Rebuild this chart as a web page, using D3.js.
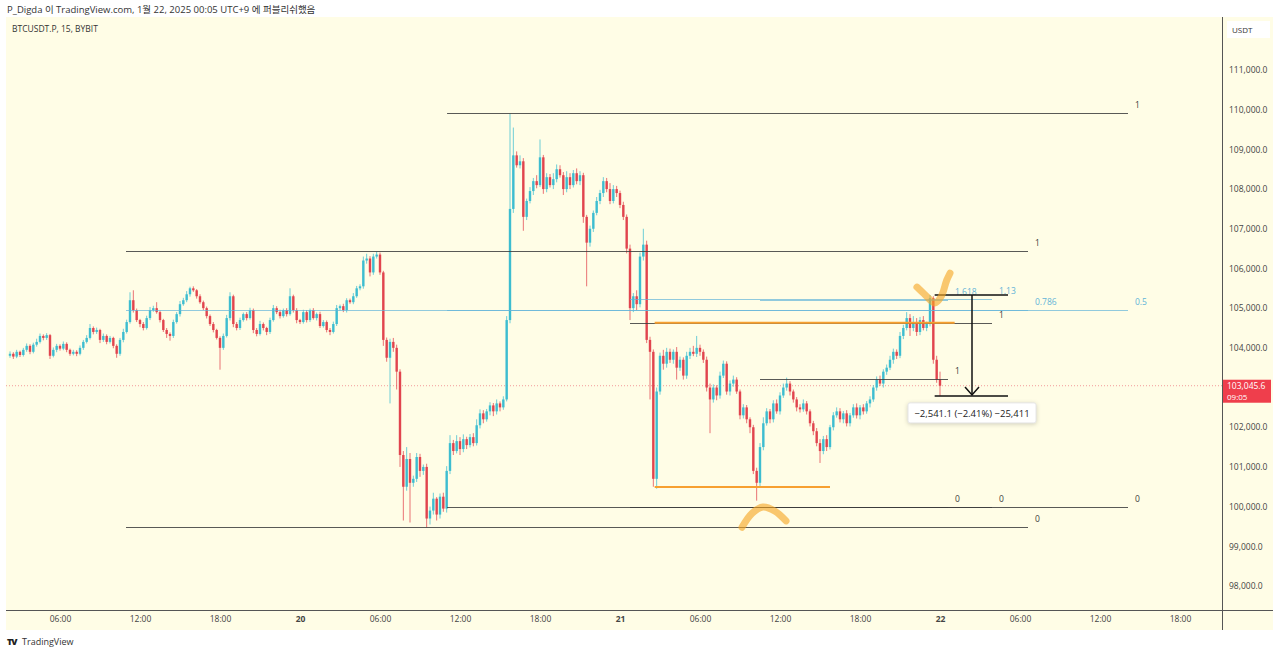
<!DOCTYPE html>
<html>
<head>
<meta charset="utf-8">
<script src="https://cdn.jsdelivr.net/npm/d3@7"></script>
<style>
  html, body { margin: 0; padding: 0; background: #fff; }
  svg { display: block; font-family: "Open Sans", "Noto Sans", "Noto Sans CJK KR", sans-serif; }
</style>
</head>
<body>
<div id="chart"></div>
<script>
// BTCUSDT.P 15m, hours counted from Jan 20 00:00 (UTC+9)
const barStart = -21.75;
const barStep = 0.25;
const firstOpen = 103800;

const closes = [
  103850, 103780, 103900, 103820, 103950, 104050, 103900, 104080,
  104150, 104300, 104250, 104320, 103800, 103950, 104050, 103980,
  104100, 103950, 103850, 103900, 103850, 104000, 104150, 104250,
  104500, 104400, 104450, 104200, 104300, 104150, 104250, 104050,
  103850, 104200, 104400, 104650, 105200, 104950, 104700, 104600,
  104500, 104750, 104950, 105000, 104900, 104700, 104450, 104350,
  104300, 104650, 104850, 105100, 105200, 105350, 105500, 105450,
  105300, 105150, 105000, 104800, 104600, 104450, 104250, 104000,
  104300, 104750, 105300, 104600, 104500, 104700, 104850, 104750,
  104950, 104450, 104350, 104600, 104500, 104400, 104700, 105000,
  104900, 104800, 104950, 104850, 105300, 104950, 104700, 104650,
  104900, 104700, 104950, 104750, 104850, 104550, 104650, 104450,
  104400, 104600, 105000, 105050, 104950, 105200, 105150, 105300,
  105500, 105550, 106200, 106250, 105900, 106300, 106350, 105900,
  104200, 103750, 104150, 104000, 103400, 101300, 100500, 101200,
  100600, 100700, 101250, 100900, 101000, 99700, 99900, 100200,
  99800, 100250, 99950, 100900, 101600, 101400, 101650, 101450,
  101700, 101550, 101750, 101600, 102050, 102350, 102200, 102400,
  102550, 102400, 102600, 102500, 102700, 104700, 107500, 108850,
  108600, 108700, 107300, 107700, 107950, 108200, 108100, 108800,
  108000, 108300, 108100, 108250, 108500, 108350, 108000, 108300,
  108100, 108400, 108200, 108350, 107300, 106650, 107000, 107400,
  107700, 107900, 108200, 108000, 107700, 108000, 107900, 107600,
  107300, 106500, 105000, 105300, 105100, 106300, 106600, 104200,
  103900, 100700, 102900, 103800, 103600, 103900, 103700, 103900,
  103500, 103700, 103300, 103800, 103900, 103850, 104000, 103900,
  103700, 103000, 102700, 103000, 102800, 103300, 103600, 102900,
  103100, 103200, 102900, 102300, 102500, 102200, 102000, 100900,
  100600, 101500, 102100, 102400, 102200, 102600, 102400, 102800,
  103000, 103100, 102900, 102700, 102500, 102450, 102600, 102400,
  102100, 101900, 101600, 101400, 101700, 101500, 102000, 102300,
  102400, 102200, 102350, 102100, 102300, 102500, 102300, 102500,
  102400, 102600, 102700, 103000, 103200, 103100, 103400, 103500,
  103700, 103900, 103800, 104300, 104500, 104750, 104500, 104650,
  104400, 104700, 104500, 104600, 105250, 103700, 103200, 103045.6
];

// wick lengths above / below the body, USDT
const upWick = [
  60, 40, 50, 30, 50, 60, 40, 50, 80, 60, 40, 50, 30, 60, 50, 40,
  60, 40, 30, 50, 40, 60, 50, 70, 100, 40, 60, 30, 60, 40, 50, 30,
  40, 50, 80, 60, 200, 250, 40, 30, 50, 60, 80, 60, 150, 40, 30, 50,
  40, 60, 50, 80, 60, 80, 40, 50, 30, 50, 40, 40, 40, 50, 30, 40,
  60, 80, 100, 40, 50, 60, 40, 50, 60, 40, 50, 80, 40, 30, 60, 80,
  50, 60, 40, 50, 200, 40, 50, 30, 60, 50, 40, 50, 40, 60, 50, 40,
  50, 60, 80, 40, 60, 50, 40, 80, 60, 50, 100, 120, 60, 70, 70, 50,
  40, 60, 80, 100, 80, 60, 100, 300, 150, 80, 100, 80, 60, 80, 100, 150,
  40, 80, 100, 120, 200, 80, 150, 100, 120, 60, 80, 100, 150, 100, 80, 60,
  80, 60, 100, 50, 80, 100, 2400, 700, 100, 150, 80, 60, 100, 80, 150, 450,
  60, 100, 80, 150, 120, 100, 80, 150, 100, 80, 120, 100, 60, 50, 80, 60,
  100, 80, 100, 80, 150, 100, 80, 60, 80, 60, 100, 80, 150, 100, 400, 100,
  80, 60, 100, 80, 150, 100, 80, 60, 120, 80, 60, 100, 100, 150, 300, 80,
  60, 80, 100, 80, 60, 100, 80, 60, 80, 100, 60, 50, 80, 60, 50, 60,
  80, 100, 150, 80, 60, 80, 100, 80, 100, 150, 60, 50, 60, 80, 100, 60,
  50, 60, 80, 100, 80, 100, 60, 80, 100, 80, 60, 80, 60, 80, 100, 60,
  80, 60, 80, 60, 80, 100, 60, 80, 100, 80, 60, 100, 80, 150, 100, 150,
  100, 80, 100, 60, 80, 50, 100, 200
];
const downWick = [
  50, 60, 40, 50, 40, 50, 60, 40, 50, 40, 60, 50, 80, 40, 60, 50,
  40, 60, 50, 40, 60, 40, 50, 40, 40, 60, 50, 80, 50, 60, 40, 60,
  100, 50, 60, 40, 40, 60, 50, 80, 60, 40, 50, 40, 40, 60, 50, 100,
  120, 50, 40, 60, 40, 50, 60, 40, 60, 40, 50, 60, 50, 60, 40, 550,
  50, 40, 60, 80, 60, 50, 40, 60, 40, 80, 60, 40, 60, 80, 50, 40,
  50, 60, 40, 60, 40, 60, 80, 50, 40, 60, 50, 40, 60, 50, 40, 60,
  80, 40, 50, 60, 50, 60, 40, 50, 40, 50, 60, 80, 100, 60, 50, 60,
  150, 100, 1150, 100, 450, 300, 850, 100, 1000, 100, 80, 150, 100, 220, 150, 100,
  150, 100, 80, 100, 80, 100, 60, 150, 80, 100, 60, 80, 60, 80, 100, 60,
  100, 120, 80, 100, 60, 50, 80, 100, 60, 80, 350, 80, 60, 100, 80, 50,
  120, 80, 60, 100, 80, 60, 150, 80, 100, 60, 80, 100, 150, 1100, 100, 80,
  60, 80, 100, 80, 80, 60, 100, 80, 80, 120, 300, 100, 150, 80, 100, 80,
  1200, 200, 250, 80, 150, 100, 80, 100, 300, 80, 100, 80, 80, 60, 80, 100,
  80, 100, 850, 80, 120, 80, 60, 80, 100, 80, 60, 100, 80, 100, 150, 80,
  450, 100, 80, 60, 100, 80, 60, 80, 60, 80, 100, 80, 100, 80, 60, 80,
  80, 100, 80, 300, 80, 100, 60, 80, 60, 80, 100, 80, 80, 60, 80, 100,
  80, 60, 100, 60, 80, 60, 100, 80, 60, 100, 80, 60, 80, 60, 200, 80,
  100, 80, 60, 80, 60, 100, 80, 255
];

const priceTicks = [98000, 99000, 100000, 101000, 102000, 103000, 104000, 105000,
  106000, 107000, 108000, 109000, 110000, 111000];
const timeTickHours = [-18, -12, -6, 0, 6, 12, 18, 24, 30, 36, 42, 48, 54, 60, 66];
const timeTickLabels = ["06:00", "12:00", "18:00", "20", "06:00", "12:00", "18:00", "21",
  "06:00", "12:00", "18:00", "22", "06:00", "12:00", "18:00"];

// fibonacci retracements: time range (hours), price at level 0 and 1, levels shown
const fibNames = ["A", "B", "C", "D"];
const fibT0 = [11.03, -13.05, 24.75, 34.5];
const fibT1 = [62.1, 54.6, 51.9, 48.6];
const fibP0 = [99990, 99486, 99990, 99990];
const fibP1 = [109919, 106443, 104630, 103220];
const fibLevels = [[0, 0.5, 1], [0, 0.786, 1], [0, 1, 1.13], [0, 1, 1.618]];

// orange horizontal lines
const orangeT0 = [26.6, 26.6];
const orangeT1 = [49.1, 39.75];
const orangePrice = [104630, 100494];

// price range measurement
const measureT0 = 47.6, measureT1 = 53.1, measureTArrow = 50.4;
const measureFrom = 105330.3, measureTo = 102789.2;
const measureText = "\u22122,541.1 (\u22122.41%) \u221225,411";

// hand-drawn highlighter marks [hour, price]
const markCheck = [[46.27, 105530], [46.9, 105330], [47.62, 105130], [48.1, 105300], [48.5, 105700], [48.75, 105880]];
const markArc = [[33.15, 99480], [33.9, 99830], [34.72, 99990], [35.6, 99890], [36.45, 99640]];

const lastPrice = 103045.6;
const countdown = "09:05";

const W = 1280, H = 654;
const plotL = 6, plotR = 1222, plotT = 17, plotB = 610, paneR = 1273, paneB = 630;

const x = d3.scaleLinear().domain([0, 48]).range([300, 940]);
const y = d3.scaleLinear().domain([98000, 111000]).range([586, 70]);

const bars = closes.map((c, i) => {
  const o = i === 0 ? firstOpen : closes[i - 1];
  return {
    t: barStart + i * barStep,
    o: o, c: c,
    h: Math.max(o, c) + upWick[i],
    l: Math.min(o, c) - downWick[i]
  };
});

const svg = d3.select("#chart").append("svg")
  .attr("width", W).attr("height", H);

// background
svg.append("rect").attr("x", plotL).attr("y", plotT)
  .attr("width", paneR - plotL).attr("height", paneB - plotT)
  .attr("fill", "#fffde6");

svg.append("defs").append("clipPath").attr("id", "plotClip")
  .append("rect").attr("x", plotL).attr("y", plotT)
  .attr("width", plotR - plotL).attr("height", plotB - plotT);

const plot = svg.append("g").attr("clip-path", "url(#plotClip)");

// last price dotted line
plot.append("line")
  .attr("x1", plotL).attr("x2", plotR)
  .attr("y1", y(lastPrice)).attr("y2", y(lastPrice))
  .attr("stroke", "#f29a9a").attr("stroke-width", 1)
  .attr("stroke-dasharray", "1,2");

// fib lines
const fibColor = lv => (lv === 0 || lv === 1) ? "#3c3c3c" : "#62b4d8";
const fibG = svg.append("g");
fibNames.forEach((name, k) => {
  fibLevels[k].forEach(lv => {
    const p = fibP0[k] + lv * (fibP1[k] - fibP0[k]);
    const yy = Math.round(y(p)) + 0.5;
    fibG.append("line")
      .attr("x1", x(fibT0[k])).attr("x2", x(fibT1[k]))
      .attr("y1", yy).attr("y2", yy)
      .attr("stroke", fibColor(lv))
      .attr("stroke-opacity", (lv === 0 || lv === 1) ? 0.85 : 0.7)
      .attr("stroke-width", 1);
    fibG.append("text")
      .attr("x", x(fibT1[k]) + 7).attr("y", yy - 6)
      .attr("font-size", 8.5)
      .attr("fill", fibColor(lv))
      .text(String(lv));
  });
});

// orange lines
orangePrice.forEach((p, k) => {
  svg.append("line")
    .attr("x1", x(orangeT0[k])).attr("x2", x(orangeT1[k]))
    .attr("y1", y(p)).attr("y2", y(p))
    .attr("stroke", "#f7a030").attr("stroke-width", 2);
});

// candles
const up = "#3dbdd0", down = "#e1444e";
const cg = plot.append("g");
cg.selectAll("line.wick").data(bars).enter().append("line")
  .attr("class", "wick")
  .attr("x1", d => x(d.t)).attr("x2", d => x(d.t))
  .attr("y1", d => y(d.h)).attr("y2", d => y(d.l))
  .attr("stroke", d => d.c >= d.o ? up : down)
  .attr("stroke-opacity", 0.75)
  .attr("stroke-width", 1);
cg.selectAll("rect.body").data(bars).enter().append("rect")
  .attr("class", "body")
  .attr("x", d => x(d.t) - 1.2)
  .attr("width", 2.4)
  .attr("y", d => y(Math.max(d.o, d.c)))
  .attr("height", d => Math.max(1, Math.abs(y(d.o) - y(d.c))))
  .attr("fill", d => d.c >= d.o ? up : down);

// measurement tool
const mg = svg.append("g");
[measureFrom, measureTo].forEach(p => {
  mg.append("line")
    .attr("x1", x(measureT0)).attr("x2", x(measureT1))
    .attr("y1", y(p)).attr("y2", y(p))
    .attr("stroke", "#111").attr("stroke-width", 1.5);
});
const ax = x(measureTArrow);
mg.append("line")
  .attr("x1", ax).attr("x2", ax)
  .attr("y1", y(measureFrom)).attr("y2", y(measureTo) - 1)
  .attr("stroke", "#111").attr("stroke-width", 1.5);
mg.append("polyline")
  .attr("points", `${ax - 7},${y(measureTo) - 9} ${ax},${y(measureTo) - 1} ${ax + 7},${y(measureTo) - 9}`)
  .attr("fill", "none").attr("stroke", "#111").attr("stroke-width", 1.5);
const boxY = y(measureTo) + 7;
mg.append("rect")
  .attr("x", ax - 64).attr("y", boxY)
  .attr("width", 128).attr("height", 20).attr("rx", 2)
  .attr("fill", "#fff")
  .attr("stroke", "#e6e6e6").attr("stroke-width", 1)
  .style("filter", "drop-shadow(0px 1px 2px rgba(0,0,0,0.18))");
mg.append("text")
  .attr("x", ax).attr("y", boxY + 14)
  .attr("text-anchor", "middle")
  .attr("font-size", 9.5).attr("fill", "#222")
  .text(measureText);

// highlighter marks
const markLine = d3.line()
  .x(d => x(d[0])).y(d => y(d[1]))
  .curve(d3.curveCatmullRom);
[markCheck, markArc].forEach(pts => {
  svg.append("path")
    .attr("d", markLine(pts))
    .attr("fill", "none")
    .attr("stroke", "#f5a623").attr("stroke-opacity", 0.62)
    .attr("stroke-width", 7).attr("stroke-linecap", "round")
    .attr("stroke-linejoin", "round");
});

// axes frame
svg.append("line").attr("x1", plotR + 0.5).attr("x2", plotR + 0.5)
  .attr("y1", plotT).attr("y2", paneB)
  .attr("stroke", "#555").attr("stroke-width", 1);
svg.append("line").attr("x1", plotL).attr("x2", paneR)
  .attr("y1", plotB + 0.5).attr("y2", plotB + 0.5)
  .attr("stroke", "#555").attr("stroke-width", 1);

// price axis
const yAxis = d3.axisRight(y).tickValues(priceTicks)
  .tickFormat(d3.format(",.1f")).tickSize(0).tickPadding(0);
svg.append("g")
  .attr("transform", `translate(${plotR + 7},0)`)
  .call(yAxis)
  .call(g => g.select(".domain").remove())
  .call(g => g.selectAll("text").attr("font-size", 8.5).attr("fill", "#444")
    .attr("font-family", "\"Open Sans\", sans-serif"));

// time axis
const xAxis = d3.axisBottom(x).tickValues(timeTickHours)
  .tickFormat((d, i) => timeTickLabels[i]).tickSize(0).tickPadding(0);
svg.append("g")
  .attr("transform", `translate(0,${plotB + 6})`)
  .call(xAxis)
  .call(g => g.select(".domain").remove())
  .call(g => g.selectAll("text")
    .attr("font-size", 8.5).attr("fill", "#444")
    .attr("font-family", "\"Open Sans\", sans-serif")
    .attr("font-weight", (d, i) => timeTickLabels[i].length === 2 ? 700 : 400));

// USDT box
svg.append("rect").attr("x", 1227).attr("y", 21).attr("width", 43).attr("height", 17)
  .attr("fill", "#fff");
svg.append("text").attr("x", 1232).attr("y", 33)
  .attr("font-size", 8).attr("fill", "#333").text("USDT");

// last price label
const ly = y(lastPrice);
svg.append("rect").attr("x", plotR + 1).attr("y", ly - 6).attr("width", 48).attr("height", 23)
  .attr("fill", "#ef3e4c");
svg.append("text").attr("x", plotR + 5).attr("y", ly + 3)
  .attr("font-size", 8.5).attr("fill", "#fff").text(d3.format(",.1f")(lastPrice));
svg.append("text").attr("x", plotR + 5).attr("y", ly + 14)
  .attr("font-size", 8).attr("fill", "#fff").text(countdown);

// header
svg.append("text").attr("x", 7).attr("y", 13)
  .attr("font-size", 9.5).attr("fill", "#333")
  .text("P_Digda 이 TradingView.com, 1월 22, 2025 00:05 UTC+9 에 퍼블리쉬했음");
svg.append("text").attr("x", 12).attr("y", 32)
  .attr("font-size", 8.5).attr("fill", "#333")
  .text("BTCUSDT.P, 15, BYBIT");

// footer logo
svg.append("text").attr("x", 7).attr("y", 645)
  .attr("font-size", 9).attr("font-weight", 900).attr("fill", "#222")
  .attr("letter-spacing", -1).text("TV");
svg.append("text").attr("x", 22).attr("y", 645)
  .attr("font-size", 9).attr("fill", "#333").text("TradingView");
</script>
</body>
</html>
